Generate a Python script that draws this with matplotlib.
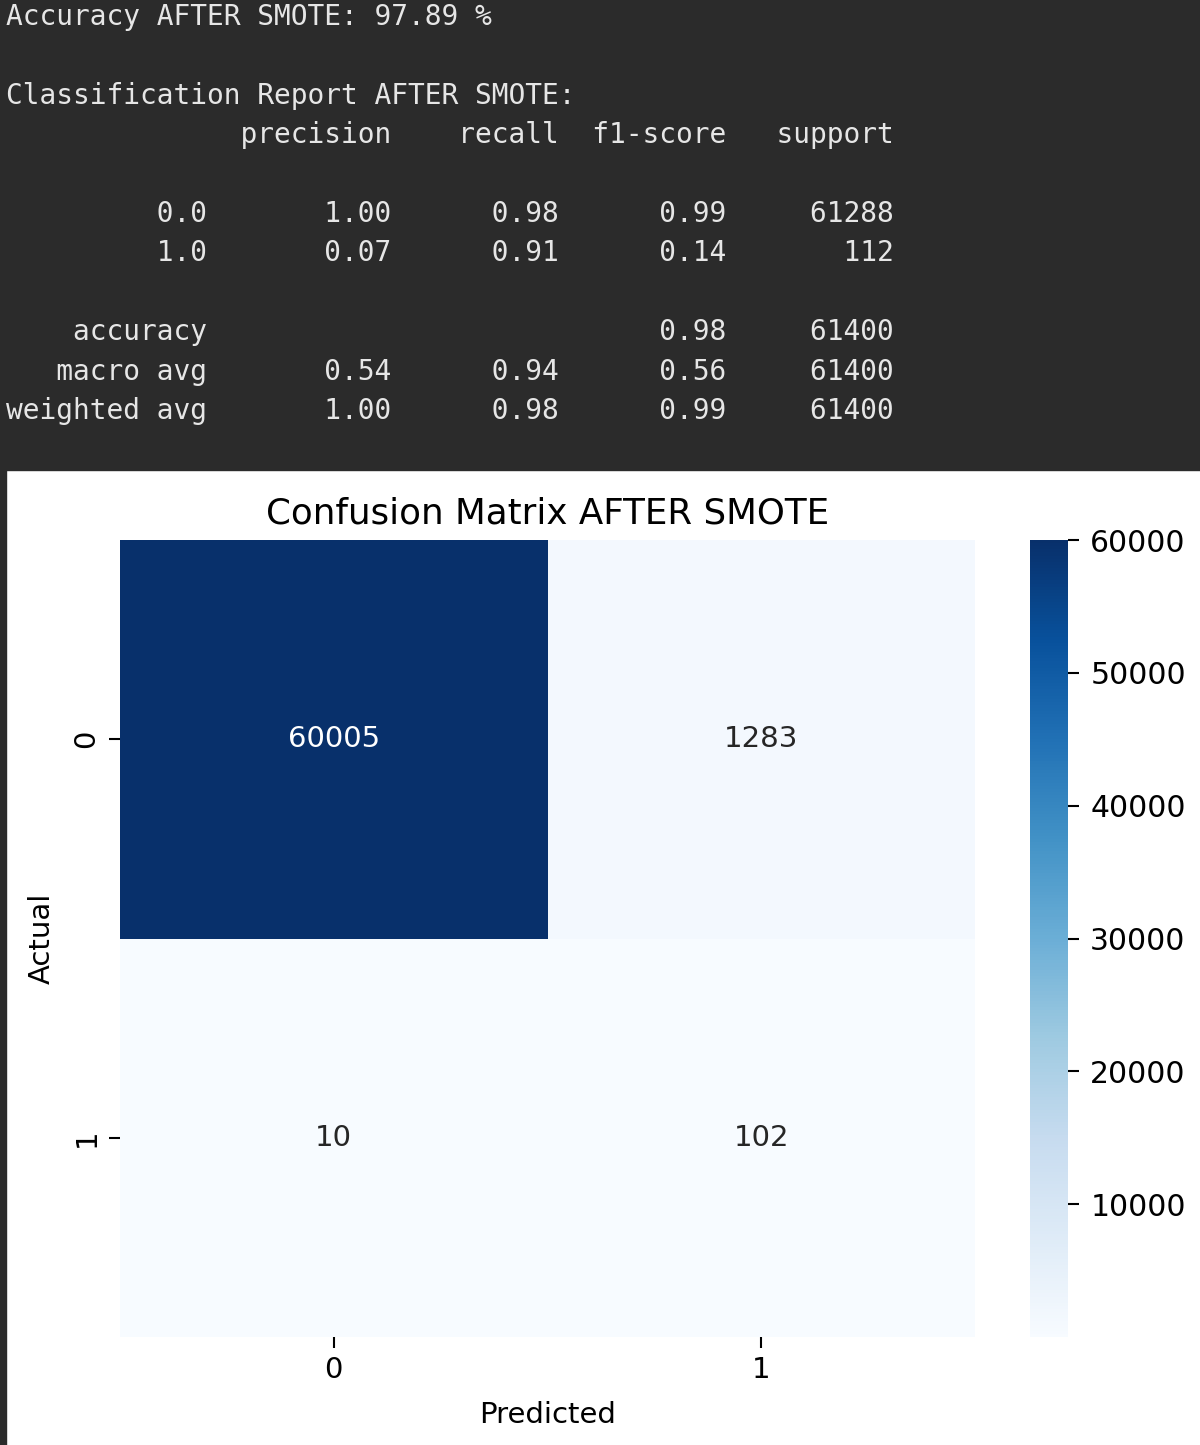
import matplotlib
matplotlib.use("Agg")
import matplotlib.pyplot as plt
import seaborn as sns
import numpy as np
from matplotlib.patches import Rectangle

accuracy_pct = 97.89
classes = ["0.0", "1.0"]
precision = [1.00, 0.07]
recall = [0.98, 0.91]
f1 = [0.99, 0.14]
support = [61288, 112]
acc_value = 0.98
total = 61400
macro = [0.54, 0.94, 0.56]
weighted = [1.00, 0.98, 0.99]
cm = [[60005, 1283], [10, 102]]
tick_labels = ["0", "1"]

W, H = 1200, 1445
fig = plt.figure(figsize=(12, 14.45), dpi=100)
dark = "#2b2b2b"
fig.patches.append(Rectangle((0, 1 - 470 / H), 1, 470 / H, transform=fig.transFigure,
                             color=dark, zorder=0))
fig.patches.append(Rectangle((0, 0), 6 / W, 1, transform=fig.transFigure, color=dark, zorder=0))

w = 12
lines = [f"Accuracy AFTER SMOTE: {accuracy_pct:.2f} %", "",
         "Classification Report AFTER SMOTE:",
         f"{'':>{w}s} " + "".join(f" {h:>9}" for h in ["precision", "recall", "f1-score", "support"]), ""]
for c, p, r, f, s in zip(classes, precision, recall, f1, support):
    lines.append(f"{c:>{w}s} " + f" {p:>9.2f} {r:>9.2f} {f:>9.2f} {s:>9}")
lines.append("")
lines.append(f"{'accuracy':>{w}s} " + f" {'':>9} {'':>9} {acc_value:>9.2f} {total:>9}")
lines.append(f"{'macro avg':>{w}s} " + f" {macro[0]:>9.2f} {macro[1]:>9.2f} {macro[2]:>9.2f} {total:>9}")
lines.append(f"{'weighted avg':>{w}s} " + f" {weighted[0]:>9.2f} {weighted[1]:>9.2f} {weighted[2]:>9.2f} {total:>9}")
y0 = 17
for i, ln in enumerate(lines):
    fig.text(6 / W, 1 - (y0 + i * 39.4) / H, ln, family="DejaVu Sans Mono", fontsize=20.1,
             color="#e6e6e6", va="center", ha="left")

ax = fig.add_axes([120 / W, (H - 1337) / H, 855 / W, 797 / H])
cax = fig.add_axes([1030 / W, (H - 1337) / H, 38 / W, 797 / H])
sns.heatmap(np.array(cm), annot=True, fmt="d", cmap="Blues", ax=ax, cbar_ax=cax,
            xticklabels=tick_labels, yticklabels=tick_labels, annot_kws={"fontsize": 21})
ax.set_title("Confusion Matrix AFTER SMOTE", fontsize=25.7, pad=12)
ax.set_xlabel("Predicted", fontsize=21, labelpad=12)
ax.set_ylabel("Actual", fontsize=21, labelpad=12)
ax.tick_params(labelsize=21, length=8, width=1.5, pad=6)
cax.tick_params(labelsize=21.5, length=8, width=1.5, pad=8)
cax.set_yticks([10000, 20000, 30000, 40000, 50000, 60000])
fig.savefig("out.png", dpi=100)
